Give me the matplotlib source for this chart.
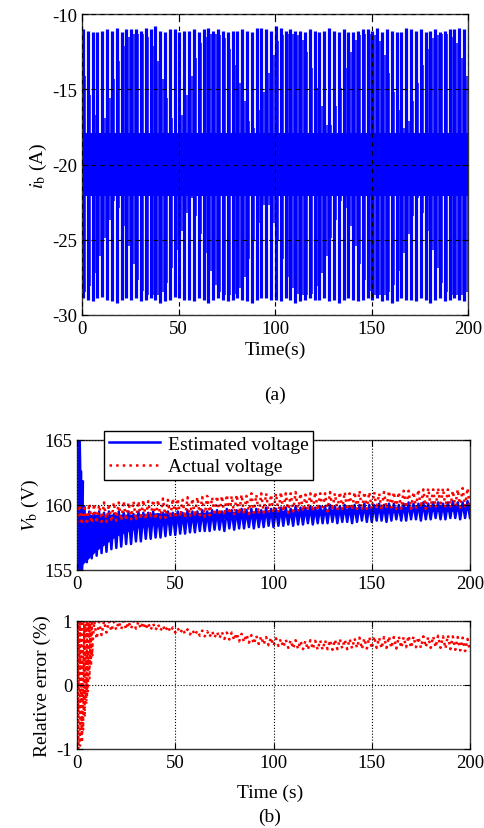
import numpy as np
import matplotlib
matplotlib.use("Agg")
import matplotlib.pyplot as plt

plt.rcParams['font.family'] = ['Liberation Serif', 'DejaVu Serif']
plt.rcParams['mathtext.fontset'] = 'stix'
plt.rcParams['axes.unicode_minus'] = False
plt.rcParams['font.size'] = 13

# ---- (a) battery current i_b : one column per cycle of the oscillation ----
ib_t = 0.5 + 2.5 * np.arange(80)      # cycle times (s)
ib_top = [-11.0, -11.1, -11.2, -11.2, -11.1, -11.0, -11.1, -10.9, -11.2, -11.0,
          -11.0, -11.0, -11.1, -10.9, -11.0, -10.8, -11.1, -11.2, -11.0, -11.0,
          -11.2, -11.1, -11.1, -11.0, -11.2, -11.0, -10.9, -11.1, -11.0, -11.1,
          -11.2, -11.1, -11.1, -11.0, -11.1, -11.2, -10.9, -10.9, -11.0, -11.1,
          -10.8, -10.9, -11.1, -11.0, -11.1, -11.1, -11.2, -11.0, -11.1, -11.2,
          -11.1, -10.9, -11.1, -11.2, -11.0, -11.2, -11.2, -11.1, -11.0, -11.0,
          -11.1, -10.9, -11.2, -11.0, -11.1, -11.2, -11.2, -10.9, -11.0, -11.1,
          -11.0, -11.2, -11.1, -11.0, -11.2, -11.1, -11.0, -11.0, -10.9, -11.0]
ib_bot = [-28.9, -29.0, -29.1, -28.9, -28.8, -29.0, -29.1, -29.2, -29.0, -28.9,
          -29.0, -28.9, -29.1, -29.0, -28.9, -29.0, -29.2, -29.1, -29.0, -28.8,
          -28.9, -29.0, -29.0, -29.1, -28.9, -29.0, -29.2, -29.0, -28.9, -29.0,
          -29.1, -29.0, -28.9, -29.0, -29.1, -29.2, -29.0, -28.9, -28.9, -29.0,
          -29.0, -29.1, -28.9, -29.0, -29.2, -29.1, -29.0, -28.9, -29.0, -29.0,
          -28.9, -29.1, -29.0, -29.2, -29.0, -28.9, -29.0, -29.1, -29.0, -28.9,
          -29.0, -28.9, -29.1, -29.0, -29.2, -29.1, -28.9, -29.0, -29.0, -29.1,
          -28.9, -29.0, -29.2, -29.0, -28.9, -29.1, -29.0, -28.9, -29.0, -29.1]
# secondary (aliased) peaks between the columns
ib_sec_up = [-14.1, -15.4, -16.7, -17.9, -16.9, -15.6, -14.3, -13.1, -12.1, -11.5,
             -11.3, -11.3, -11.3, -11.5, -12.1, -13.1, -14.3, -15.6, -16.9, -17.9,
             -16.7, -15.4, -14.1, -12.9, -11.9, -11.5, -11.3, -11.3, -11.4, -11.6,
             -12.3, -13.4, -14.6, -15.8, -17.1, -17.6, -16.4, -15.2, -13.9, -12.7,
             -11.8, -11.4, -11.3, -11.3, -11.4, -11.7, -12.5, -13.6, -14.9, -16.1,
             -17.4, -17.4, -16.1, -14.9, -13.6, -12.5, -11.7, -11.4, -11.3, -11.3,
             -11.4, -11.8, -12.7, -13.9, -15.2, -16.4, -17.6, -17.1, -15.8, -14.6,
             -13.4, -12.3, -11.6, -11.4, -11.3, -11.3, -11.5, -11.9, -12.9, -14.1]
ib_sec_dn = [-28.5, -28.1, -27.2, -26.1, -24.9, -23.7, -22.4, -22.9, -24.1, -25.4,
             -26.6, -27.7, -28.4, -28.7, -28.7, -28.7, -28.5, -27.9, -26.9, -25.7,
             -24.4, -23.2, -22.2, -23.4, -24.6, -25.9, -27.1, -28.0, -28.5, -28.7,
             -28.7, -28.6, -28.2, -27.5, -26.3, -25.1, -23.9, -22.7, -22.7, -23.9,
             -25.1, -26.3, -27.5, -28.2, -28.6, -28.7, -28.7, -28.6, -28.1, -27.2,
             -26.1, -24.9, -23.7, -22.4, -22.9, -24.1, -25.4, -26.6, -27.7, -28.4,
             -28.7, -28.7, -28.7, -28.5, -28.0, -27.1, -25.9, -24.6, -23.4, -22.2,
             -23.2, -24.4, -25.7, -26.9, -27.9, -28.5, -28.7, -28.7, -28.7, -28.5]
ib_band_t = [0, 200]
ib_band_hi = [-17.9, -17.9]
ib_band_lo = [-22.1, -22.1]

# ---- (b) battery voltage: troughs on a 2.5 s grid, peaks half-way between ----
vb_t_lo = 2.5 * np.arange(81)
vb_t_hi = 1.25 + 2.5 * np.arange(80)
vb_est_lo = [154.5, 155.2, 155.6, 155.9, 156.1, 156.3, 156.4, 156.6, 156.7, 156.8,
             157.0, 157.0, 157.2, 157.2, 157.4, 157.4, 157.5, 157.5, 157.6, 157.7,
             157.7, 157.8, 157.8, 157.9, 157.9, 158.0, 158.0, 158.0, 158.1, 158.1,
             158.0, 158.2, 158.1, 158.2, 158.2, 158.3, 158.2, 158.3, 158.3, 158.4,
             158.3, 158.4, 158.4, 158.5, 158.4, 158.5, 158.5, 158.6, 158.5, 158.6,
             158.6, 158.6, 158.7, 158.6, 158.7, 158.7, 158.6, 158.7, 158.8, 158.7,
             158.7, 158.8, 158.8, 158.7, 158.8, 158.9, 158.8, 158.8, 158.9, 158.9,
             158.8, 158.9, 158.9, 159.0, 158.9, 158.9, 159.0, 159.0, 158.9, 159.0,
             159.0]
vb_est_hi = [166.0, 159.9, 159.5, 159.4, 159.5, 159.4, 159.5, 159.3, 159.5, 159.4,
             159.5, 159.3, 159.5, 159.4, 159.4, 159.5, 159.3, 159.4, 159.5, 159.4,
             159.5, 159.4, 159.6, 159.5, 159.5, 159.6, 159.5, 159.6, 159.6, 159.5,
             159.7, 159.6, 159.6, 159.7, 159.6, 159.7, 159.7, 159.6, 159.8, 159.7,
             159.7, 159.8, 159.8, 159.7, 159.9, 159.8, 159.8, 159.9, 159.8, 159.9,
             159.9, 160.0, 159.9, 159.9, 160.0, 159.9, 160.0, 160.0, 160.1, 160.0,
             160.0, 160.1, 160.0, 160.1, 160.1, 160.0, 160.1, 160.2, 160.1, 160.1,
             160.2, 160.1, 160.2, 160.2, 160.1, 160.2, 160.3, 160.2, 160.2, 160.3]
vb_core_t = np.arange(0, 201, 10)
vb_core_lo = [155.0, 156.5, 157.6, 158.2, 158.5, 158.7, 158.8, 158.9, 159.0, 159.0,
              159.1, 159.2, 159.2, 159.3, 159.3, 159.4, 159.4, 159.5, 159.5, 159.5,
              159.6]
vb_core_hi = [159.2, 159.3, 159.3, 159.3, 159.4, 159.4, 159.4, 159.5, 159.5, 159.5,
              159.6, 159.6, 159.7, 159.7, 159.8, 159.8, 159.9, 159.9, 160.0, 160.0,
              160.0]
vb_init_t = [0.0, 0.5, 1.0, 1.5, 2.0, 2.5, 3.0]
vb_init_v = [166.0, 155.0, 164.0, 154.8, 162.6, 155.0, 161.8]
vb_act_lo = [158.6, 158.5, 158.5, 158.6, 158.6, 158.7, 158.7, 158.7, 158.8, 158.8,
             158.8, 158.9, 158.8, 158.9, 158.9, 159.0, 158.9, 159.0, 159.0, 159.0,
             159.0, 159.1, 159.0, 159.1, 159.1, 159.2, 159.1, 159.2, 159.2, 159.2,
             159.2, 159.3, 159.2, 159.3, 159.3, 159.3, 159.4, 159.3, 159.4, 159.4,
             159.4, 159.4, 159.5, 159.4, 159.5, 159.5, 159.5, 159.6, 159.5, 159.6,
             159.6, 159.5, 159.6, 159.6, 159.7, 159.6, 159.6, 159.7, 159.6, 159.7,
             159.7, 159.7, 159.6, 159.7, 159.8, 159.7, 159.7, 159.8, 159.7, 159.8,
             159.8, 159.7, 159.8, 159.8, 159.9, 159.8, 159.8, 159.9, 159.8, 159.9,
             159.8]
vb_act_hi = [160.0, 160.0, 160.1, 160.1, 160.0, 160.2, 160.1, 160.2, 160.2, 160.3,
             160.2, 160.3, 160.3, 160.4, 160.3, 160.4, 160.4, 160.5, 160.4, 160.5,
             160.5, 160.4, 160.6, 160.5, 160.6, 160.6, 160.7, 160.6, 160.7, 160.7,
             160.8, 160.7, 160.8, 160.8, 160.7, 160.9, 160.8, 160.9, 160.9, 160.8,
             160.9, 161.0, 160.9, 160.9, 161.0, 160.9, 160.8, 160.9, 161.0, 160.9,
             160.9, 161.0, 160.9, 161.0, 161.0, 160.9, 161.0, 161.1, 161.0, 161.0,
             161.0, 160.9, 161.0, 161.1, 161.0, 161.0, 161.1, 161.1, 161.0, 161.2,
             161.2, 161.3, 161.2, 161.3, 161.3, 161.2, 161.1, 161.2, 161.3, 161.3]

# ---- (b) relative error (%) ----
err_lo = [-1.0, -0.9, -0.2, 0.45, 0.72, 0.78, 0.82, 0.84, 0.86, 0.87,
          0.87, 0.88, 0.88, 0.88, 0.87, 0.86, 0.86, 0.85, 0.84, 0.83,
          0.82, 0.81, 0.80, 0.79, 0.78, 0.77, 0.76, 0.75, 0.74, 0.73,
          0.72, 0.71, 0.70, 0.68, 0.67, 0.66, 0.64, 0.64, 0.63, 0.62,
          0.61, 0.61, 0.59, 0.58, 0.57, 0.56, 0.56, 0.55, 0.56, 0.55,
          0.55, 0.56, 0.55, 0.56, 0.57, 0.56, 0.57, 0.58, 0.56, 0.57,
          0.57, 0.58, 0.57, 0.58, 0.58, 0.57, 0.58, 0.59, 0.58, 0.59,
          0.58, 0.59, 0.58, 0.59, 0.58, 0.57, 0.56, 0.55, 0.54, 0.53,
          0.52]
err_hi = [1.0, 1.0, 1.0, 1.0, 0.99, 1.0, 1.0, 0.99, 0.99, 1.0,
          0.99, 1.0, 0.99, 0.98, 0.97, 0.96, 0.95, 0.93, 0.92, 0.90,
          0.89, 0.88, 0.87, 0.86, 0.85, 0.85, 0.84, 0.84, 0.83, 0.83,
          0.82, 0.82, 0.81, 0.80, 0.79, 0.78, 0.77, 0.76, 0.75, 0.74,
          0.73, 0.72, 0.71, 0.70, 0.70, 0.69, 0.69, 0.70, 0.69, 0.70,
          0.70, 0.70, 0.71, 0.72, 0.71, 0.72, 0.73, 0.74, 0.73, 0.75,
          0.76, 0.74, 0.75, 0.76, 0.75, 0.76, 0.75, 0.77, 0.76, 0.75,
          0.76, 0.75, 0.76, 0.77, 0.76, 0.78, 0.76, 0.75, 0.74, 0.72]
err_init_t = [0.0, 0.4, 0.8, 1.2, 1.6, 2.0, 2.4, 2.8, 3.2, 3.6, 4.0,
              4.4, 4.8, 5.2, 5.6, 6.0, 6.4, 6.8, 7.2, 7.6, 8.0]
err_init_v = [-1.0, 1.0, -1.0, 1.0, -0.95, 1.0, -0.85, 1.0, -0.7, 1.0, -0.5,
              0.98, -0.3, 1.0, -0.1, 0.98, 0.1, 1.0, 0.3, 0.97, 0.45]


def zig(t_lo, lo, t_hi, hi):
    t = np.empty(len(lo) + len(hi))
    v = np.empty(len(lo) + len(hi))
    t[0::2], v[0::2] = t_lo, lo
    t[1::2], v[1::2] = t_hi, hi
    return t, v


def style(ax, grid_ls):
    ax.tick_params(direction='in', top=True, right=True, length=4, labelsize=13.5)
    ax.grid(True, color='k', linestyle=grid_ls, linewidth=0.8)
    ax.set_axisbelow(False)
    for s in ax.spines.values():
        s.set_color('#333333')
        s.set_linewidth(1.0)


W, H = 484, 829
fig = plt.figure(figsize=(W / 100, H / 100), dpi=100)

# (a)
ax1 = fig.add_axes([82 / W, 1 - 316 / H, 386 / W, 301 / H])
ax1.fill_between(ib_band_t, ib_band_lo, ib_band_hi, color='blue', lw=0)
ax1.vlines(ib_t, ib_bot, ib_top, color='blue', lw=2.3)
ax1.vlines(ib_t + 1.25, ib_band_hi[0], ib_sec_up, color='blue', lw=1.1)
ax1.vlines(ib_t + 1.25, ib_sec_dn, ib_band_lo[0], color='blue', lw=1.1)
ax1.set_xlim(0, 200)
ax1.set_ylim(-30, -10)
ax1.set_xticks([0, 50, 100, 150, 200])
ax1.set_yticks([-30, -25, -20, -15, -10])
style(ax1, (0, (4, 4)))
ax1.set_ylabel(r'$i_{\mathrm{b}}$ (A)', fontsize=14, labelpad=2)
fig.text(275 / W, 1 - 350 / H, 'Time(s)', ha='center', va='center', fontsize=14)
fig.text(275 / W, 1 - 395 / H, '(a)', ha='center', va='center', fontsize=14)

# (b) voltage
ax2 = fig.add_axes([77 / W, 1 - 571 / H, 393 / W, 130 / H])
ax2.fill_between(vb_core_t, vb_core_lo, vb_core_hi, color='blue', lw=0)
t, v = zig(vb_t_lo, vb_est_lo, vb_t_hi, vb_est_hi)
ax2.plot(t, v, color='blue', lw=1.8, label='Estimated voltage')
ax2.plot(vb_init_t, vb_init_v, color='blue', lw=1.8)
t, v = zig(vb_t_lo, vb_act_lo, vb_t_hi, vb_act_hi)
ax2.plot(t, v, color='red', lw=1.8, linestyle=':', label='Actual voltage')
ax2.set_xlim(0, 200)
ax2.set_ylim(155, 165)
ax2.set_xticks([0, 50, 100, 150, 200])
ax2.set_yticks([155, 160, 165])
style(ax2, ':')
ax2.set_ylabel(r'$V_{\mathrm{b}}$ (V)', fontsize=14, labelpad=2)
leg = ax2.legend(loc='lower left', bbox_to_anchor=(0.045, 0.615), fontsize=14,
                 handlelength=2.6, handletextpad=0.4, borderpad=0.25,
                 labelspacing=0.25, fancybox=False, framealpha=1)
leg.get_frame().set_edgecolor('k')
leg.get_frame().set_linewidth(1.0)

# (b) relative error
ax3 = fig.add_axes([77 / W, 1 - 750 / H, 393 / W, 128 / H])
t, v = zig(vb_t_lo, err_lo, vb_t_hi, err_hi)
ax3.plot(t, v, color='red', lw=1.8, linestyle=':')
ax3.plot(err_init_t, err_init_v, color='red', lw=1.5, linestyle=':')
ax3.set_xlim(0, 200)
ax3.set_ylim(-1, 1)
ax3.set_xticks([0, 50, 100, 150, 200])
ax3.set_yticks([-1, 0, 1])
style(ax3, ':')
ax3.set_ylabel('Relative error (%)', fontsize=14, labelpad=4)
fig.text(270 / W, 1 - 793 / H, 'Time (s)', ha='center', va='center', fontsize=14)
fig.text(270 / W, 1 - 817 / H, '(b)', ha='center', va='center', fontsize=14)

fig.savefig('out.png', dpi=100)
